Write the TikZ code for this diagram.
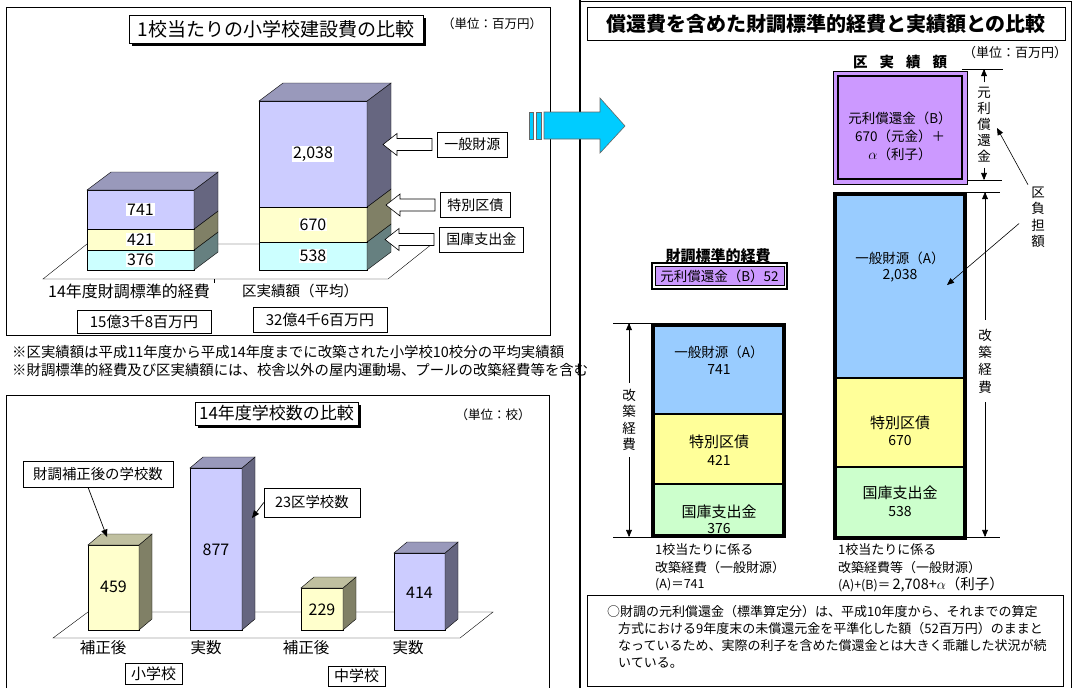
\documentclass[tikz,border=0pt]{standalone}
\usepackage{fontspec}
\setmainfont{Noto Sans CJK JP}
\usetikzlibrary{arrows,shadows}

\definecolor{lavF}{HTML}{CCCCFF}
\definecolor{lavS}{HTML}{666680}
\definecolor{lavT}{HTML}{9999BB}
\definecolor{yelF}{HTML}{FFFFCC}
\definecolor{yelS}{HTML}{808066}
\definecolor{yelT}{HTML}{C0C0A0}
\definecolor{cyaF}{HTML}{CCFFFF}
\definecolor{cyaS}{HTML}{668080}
\definecolor{purB}{HTML}{CC99FF}
\definecolor{bluB}{HTML}{99CCFF}
\definecolor{yelB}{HTML}{FFFF99}
\definecolor{grnB}{HTML}{CCFFCC}
\definecolor{skyA}{HTML}{00CCFF}

% one slice of a 3d bar: x left, x right, y top, y bottom, front, side
\newcommand{\segbox}[6]{%
  \filldraw[fill=#5] (#1,#3) rectangle (#2,#4);
  \filldraw[fill=#6] (#2,#3) -- ++(\dpx,-\dpy) -- ++(0,{#4-#3}) -- (#2,#4) -- cycle;}
\newcommand{\segtop}[4]{%
  \filldraw[fill=#4] (#1,#3) -- ++(\dpx,-\dpy) -- ++({#2-#1},0) -- (#2,#3) -- cycle;}

\tikzset{
  fs/.style={font=\fontsize{#1pt}{#1pt}\selectfont},
  fb/.style={font=\fontsize{#1pt}{#1pt}\selectfont\bfseries},
  panel/.style={draw,line width=0.7pt},
  titlebox/.style={draw,fill=white,line width=0.7pt,drop shadow={opacity=1,shadow xshift=3pt,shadow yshift=-3pt,fill=black}},
  tag/.style={draw,fill=white,line width=0.6pt,inner xsep=7pt,minimum height=25pt,fs=14},
  val/.style={fill=white,inner sep=1pt,fs=16},
  txt/.style={inner sep=0pt},
  vtext/.style={align=center,inner sep=6pt,font=\fontsize{13.5pt}{16.5pt}\selectfont},
  dim/.style={line width=0.6pt},
  harrow/.style={draw,fill=white,line width=0.6pt},
}

\begin{document}
\begin{tikzpicture}[x=1pt,y=-1pt,>=triangle 45]
\useasboundingbox (0,0) rectangle (1073,688);

%% top left: building cost
\draw[panel] (6,7) rectangle (550,335);
\node[titlebox,fs=19,minimum width=294pt,minimum height=28pt] (ttlA) at (276,29) {1校当たりの小学校建設費の比較};
\node[txt,fs=12.5] (unitA) at (492,24) {（単位：百万円）};
\draw (43,279) -- (87,244) -- (432,244) -- (388,279) -- cycle;
\draw (214,279) -- (214,283);
\def\dpx{24}\def\dpy{18}
\segbox{87}{194}{250}{270}{cyaF}{cyaS}
\segbox{87}{194}{229}{250}{yelF}{yelS}
\segbox{87}{194}{190}{229}{lavF}{lavS}
\segtop{87}{194}{190}{lavT}
\segbox{259}{367}{242}{270}{cyaF}{cyaS}
\segbox{259}{367}{207}{242}{yelF}{yelS}
\segbox{259}{367}{101}{207}{lavF}{lavS}
\segtop{259}{367}{101}{lavT}
\node[val] (v741) at (140.5,209.5) {741};
\node[val] (v421) at (140.5,239.5) {421};
\node[val] (v376) at (140.5,260) {376};
\node[val] (v2038) at (313,154) {2,038};
\node[val] (v670) at (313,224.5) {670};
\node[val] (v538) at (313,256) {538};

\node[tag,anchor=west] (tgA) at (437,144.5) {一般財源};
\node[tag,anchor=west] (tgB) at (440,205) {特別区債};
\node[tag,anchor=west] (tgC) at (439,239.5) {国庫支出金};
\foreach \t in {tgA,tgB,tgC}
  \draw[harrow] ([xshift=-5]\t.west) -- ++(0,-6) -- ++(-35,0) -- ++(0,-5) -- ++(-14,11)
    -- ++(14,11) -- ++(0,-5) -- ++(35,0) -- cycle;

\node[txt,fs=16] (catA) at (129,291) {14年度財調標準的経費};
\node[txt,fs=14.5] (catB) at (300,291) {区実績額（平均）};
\node[draw,fs=15,minimum width=134pt,minimum height=23pt] (sumA) at (144,321.5) {15億3千8百万円};
\node[draw,fs=15,minimum width=134pt,minimum height=25pt] (sumB) at (320,319.5) {32億4千6百万円};

\node[txt,fs=14.4,anchor=west] (noteA) at (12,352) {※区実績額は平成11年度から平成14年度までに改築された小学校10校分の平均実績額};
\node[txt,fs=14.4,anchor=west] (noteB) at (12,370) {※財調標準的経費及び区実績額には、校舎以外の屋内運動場、プールの改築経費等を含む};

%% bottom left: number of schools
\draw[line width=0.7pt] (6,688) -- (6,395) -- (549,395) -- (549,688);
\node[titlebox,fs=17,minimum width=163pt,minimum height=23pt] (ttlB) at (276.5,413.5) {14年度学校数の比較};
\node[txt,fs=12.5] (unitB) at (493,415) {（単位：校）};
\draw (53,638) -- (88,612) -- (493,612) -- (460,638) -- cycle;
\def\dpx{13}\def\dpy{11}
\segbox{88}{139}{545}{630}{yelF}{yelS}
\segtop{88}{139}{545}{yelT}
\segbox{190}{242}{468}{630}{lavF}{lavS}
\segtop{190}{242}{468}{lavT}
\segbox{301}{343}{588}{630}{yelF}{yelS}
\segtop{301}{343}{588}{yelT}
\segbox{394}{445}{553}{630}{lavF}{lavS}
\segtop{394}{445}{553}{lavT}
\node[txt,fs=16] (n459) at (113.5,587) {459};
\node[txt,fs=16] (n877) at (216,550) {877};
\node[txt,fs=16] (n229) at (322,610) {229};
\node[txt,fs=16] (n414) at (419.5,593) {414};

\node[draw,fill=white,fs=14.4,minimum width=150pt,minimum height=26pt] (callA) at (98,474) {財調補正後の学校数};
\node[draw,fill=white,fs=14.4,minimum width=96pt,minimum height=29pt] (callB) at (312,502.5) {23区学校数};
\coordinate (pA) at (107,537);
\coordinate (pB) at (252,518);
\draw[->,line width=0.7pt] ([xshift=-10]callA.south) -- (pA);
\draw[->,line width=0.7pt] (callB.west) -- (pB);

\node[txt,fs=15.5] (xA) at (103,648) {補正後};
\node[txt,fs=15.5] (xB) at (206,648) {実数};
\node[txt,fs=15.5] (xC) at (306,648) {補正後};
\node[txt,fs=15.5] (xD) at (408,648) {実数};
\node[draw,fs=15,minimum width=57pt,minimum height=20pt] (grpA) at (153.5,673.5) {小学校};
\node[draw,fs=15,minimum width=57pt,minimum height=20pt] (grpB) at (356.5,676) {中学校};

%% right: repayment comparison
\draw[line width=1pt] (580,1) -- (1071,1) -- (1071,688);
\draw[line width=2pt] (580,0) -- (580,688);
\node[draw,line width=0.8pt,minimum width=478pt,minimum height=33pt,fb=20] (ttlC) at (826,23.5) {償還費を含めた財調標準的経費と実績額との比較};
\node[txt,fs=13] (unitC) at (1015,53) {（単位：百万円）};

\node[txt,fb=14.5] (hdR) at (900,62) {区\hspace{12pt}実\hspace{12pt}績\hspace{12pt}額};
\node[txt,fb=15] (hdL) at (718,256) {財調標準的経費};

% small repayment box
\node[draw,line width=0.6pt,fill=purB,minimum width=129pt,minimum height=18pt,fs=13.5] (repS) at (719.5,276) {元利償還金（B）52};
\draw[line width=1.8pt] ([shift={(-3,-3)}]repS.north west) rectangle ([shift={(3,3)}]repS.south east);

% left stack
\fill[bluB] (651,323) rectangle (786,414);
\fill[yelB] (651,414) rectangle (786,484);
\fill[grnB] (651,484) rectangle (786,538);
\draw[line width=2pt] (653,414) -- (784,414) (653,484) -- (784,484);
\draw[line width=4pt] (653,325) rectangle (784,536);
\node[txt,fs=13.5] (lA1) at (719,352) {一般財源（A）};
\node[txt,fs=14] (lA2) at (719,369.5) {741};
\node[txt,fs=15] (lB1) at (719,442) {特別区債};
\node[txt,fs=14] (lB2) at (719,460) {421};
\node[txt,fs=15] (lC1) at (719,512) {国庫支出金};
\node[txt,fs=14] (lC2) at (719,529) {376};

% right stack
\fill[purB] (833,71) rectangle (967,184);
\draw[line width=0.8pt] (833,71) rectangle (967,184);
\draw[line width=2pt] (838,76) rectangle (962,179);
\node[align=center,inner sep=0pt,font=\fontsize{13.5pt}{18pt}\selectfont] (rB) at (900,136) {元利償還金（B）\\670（元金）＋\\$\alpha$（利子）};
\fill[bluB] (833,192) rectangle (967,378);
\fill[yelB] (833,378) rectangle (967,467);
\fill[grnB] (833,467) rectangle (967,540);
\draw[line width=2pt] (835,378) -- (965,378) (835,467) -- (965,467);
\draw[line width=4pt] (835,194) rectangle (965,538);
\node[txt,fs=13.5] (rA1) at (900,258) {一般財源（A）};
\node[txt,fs=14] (rA2) at (900,276) {2,038};
\node[txt,fs=15] (rB1) at (900,423) {特別区債};
\node[txt,fs=14] (rB2) at (900,440.5) {670};
\node[txt,fs=15] (rC1) at (900,493) {国庫支出金};
\node[txt,fs=14] (rC2) at (900,512) {538};

% dimension marks
\draw[dim] (613,323) -- (651,323) (613,537) -- (651,537);
\node[vtext] (kaiL) at (629,420) {改\\築\\経\\費};
\coordinate (kLt) at (629,323);
\coordinate (kLb) at (629,537);
\draw[dim,->] (kaiL.north) -- (kLt);
\draw[dim,->] (kaiL.south) -- (kLb);

\draw[dim] (962,69) -- (1003,69) (968,180) -- (1002,180);
\draw[dim] (962,192) -- (1000,192) (967,537) -- (1000,537);
\node[vtext,inner sep=5pt,font=\fontsize{13.5pt}{16pt}\selectfont] (ganR) at (984,125) {元\\利\\償\\還\\金};
\coordinate (gRt) at (984,69);
\coordinate (gRb) at (984,180);
\draw[dim,->] (ganR.north) -- (gRt);
\draw[dim,->] (ganR.south) -- (gRb);
\node[vtext,inner sep=9pt,font=\fontsize{13.5pt}{17.3pt}\selectfont] (kaiR) at (985,361) {改\\築\\経\\費};
\coordinate (kRt) at (985,192);
\coordinate (kRb) at (985,537);
\draw[dim,->] (kaiR.north) -- (kRt);
\draw[dim,->] (kaiR.south) -- (kRb);

\node[vtext,inner sep=0pt] (kuF) at (1038,217.5) {区\\負\\担\\額};
\coordinate (kF1) at (997,128);
\coordinate (kF2) at (947,285);
\draw[dim,->] ([shift={(-10,-2)}]kuF.north) -- (kF1);
\draw[dim,->] ([shift={(-12,6)}]kuF.west) -- (kF2);

% captions
\node[txt,fs=13,anchor=west] (cL1) at (655,550) {1校当たりに係る};
\node[txt,fs=13,anchor=west] (cL2) at (655,568) {改築経費（一般財源）};
\node[txt,fs=12.5,anchor=west] (cL3) at (655,585) {(A)＝741};
\node[txt,fs=13,anchor=west] (cR1) at (838,550) {1校当たりに係る};
\node[txt,fs=13,anchor=west] (cR2) at (838,568) {改築経費等（一般財源）};
\node[txt,anchor=west] (cR3) at (838,585) {{\fontsize{12.5pt}{12.5pt}\selectfont (A)+(B)＝} {\fontsize{14.5pt}{14.5pt}\selectfont 2,708+$\alpha$（利子）}};

% note box
\draw[line width=0.7pt] (587,595) rectangle (1063,686);
\node[txt,fs=13,anchor=west] (m1) at (607,612) {○財調の元利償還金（標準算定分）は、平成10年度から、それまでの算定};
\node[txt,fs=13,anchor=west] (m2) at (618,629) {方式における9年度末の未償還元金を平準化した額（52百万円）のままと};
\node[txt,fs=13,anchor=west] (m3) at (618,646) {なっているため、実際の利子を含めた償還金とは大きく乖離した状況が続};
\node[txt,fs=13,anchor=west] (m4) at (618,663) {いている。};

%% arrow between the panels
\filldraw[fill=skyA,draw=black!60,line width=0.6pt] (529,112) rectangle (533,139) (536,112) rectangle (541,139);
\filldraw[fill=skyA,draw=black!60,line width=0.6pt] (544,112) -- (600,112) -- (600,98) -- (625,126)
  -- (600,153) -- (600,139) -- (544,139) -- cycle;
\end{tikzpicture}
\end{document}
